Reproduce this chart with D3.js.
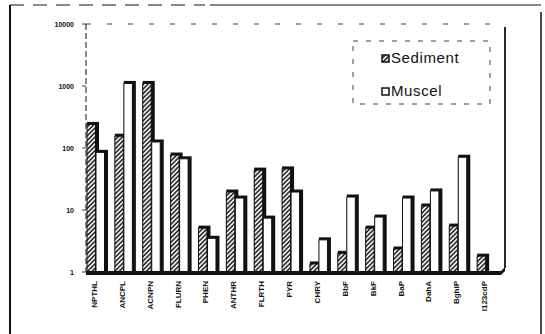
<!DOCTYPE html>
<html><head><meta charset="utf-8">
<script src="https://cdn.jsdelivr.net/npm/d3@7"></script>
<style>body{margin:0;background:#fff}svg{display:block}</style>
</head><body><svg id="c" width="545" height="334"></svg>
<script>
const categories = ["NPTHL","ANCPL","ACNPN","FLURN","PHEN","ANTHR","FLRTH","PYR","CHRY","BbF","BkF","BaP","DahA","BghiP","I123cdP"];
const sediment = [240,155,1100,77,5.1,19.5,44,46,1.35,2.0,5.1,2.35,11.6,5.5,1.8];
const muscel = [85,1100,125,67,3.5,15.6,7.4,19.5,3.3,16.2,7.7,15.6,20.3,71,null];
const yTicks = [1,10,100,1000,10000];
const yTickLabels = ["1","10","100","1000","10000"];
const seriesNames = ["Sediment","Muscel"];

const svg = d3.select("#c");
const ink = "#111";
const defs = svg.append("defs");
defs.append("pattern").attr("id","hatch").attr("patternUnits","userSpaceOnUse")
  .attr("width",3.2).attr("height",3.2).attr("patternTransform","rotate(45)")
  .call(p=>{p.append("rect").attr("width",3.2).attr("height",3.2).attr("fill","#fff");
            p.append("line").attr("x1",1).attr("y1",0).attr("x2",1).attr("y2",3.2)
             .attr("stroke",ink).attr("stroke-width",1.5);});

// outer frame
svg.append("line").attr("x1",10).attr("y1",5).attr("x2",10).attr("y2",334).attr("stroke",ink).attr("stroke-width",2);
svg.append("line").attr("x1",10).attr("y1",5).attr("x2",205).attr("y2",5).attr("stroke",ink).attr("stroke-width",1).attr("stroke-dasharray","14,9");
svg.append("line").attr("x1",210).attr("y1",5).attr("x2",541).attr("y2",5).attr("stroke",ink).attr("stroke-width",1.2);
svg.append("line").attr("x1",541).attr("y1",12).attr("x2",541).attr("y2",334).attr("stroke",ink).attr("stroke-width",1.5);

const x = d3.scaleBand().domain(categories).range([86,504]).padding(0);
const xs = d3.scaleBand().domain(seriesNames).range([1,19]).padding(0);
const y = d3.scaleLog().domain([1,10000]).range([272,24]);
const base = y(1);

// plot top (dashed) and right wall
svg.append("line").attr("x1",86).attr("y1",y(10000)).attr("x2",500).attr("y2",y(10000)).attr("stroke",ink).attr("stroke-width",0.8).attr("stroke-dasharray","5,16");
svg.append("line").attr("x1",505).attr("y1",27).attr("x2",505).attr("y2",268).attr("stroke",ink).attr("stroke-width",1.8);

// y axis
svg.append("line").attr("x1",86).attr("y1",y(10000)).attr("x2",86).attr("y2",base).attr("stroke",ink).attr("stroke-width",1).attr("stroke-dasharray","6,3");
const yt = svg.append("g");
yTicks.forEach((t,i)=>{
  yt.append("line").attr("x1",82).attr("x2",86).attr("y1",y(t)).attr("y2",y(t)).attr("stroke",ink).attr("stroke-width",0.8);
  yt.append("text").attr("x",74).attr("y",y(t)+2.5).attr("text-anchor","end")
    .attr("font-family","Liberation Sans, Arial, sans-serif").attr("font-size",7).attr("font-weight","bold")
    .attr("fill",ink).text(yTickLabels[i]);
});

// bars
const dx = 3, dy = 2.5;
const bars = svg.append("g");
categories.forEach((c,i)=>{
  const series = [[seriesNames[0], sediment[i], "url(#hatch)"],[seriesNames[1], muscel[i], "#fff"]];
  series.forEach(([s,v,fill])=>{
    if (v == null) return;
    const bx = x(c) + xs(s), w = xs.bandwidth(), ty = y(v);
    bars.append("rect").attr("x",bx).attr("y",ty-dy).attr("width",w+dx).attr("height",base-ty+dy).attr("fill",ink);
    bars.append("rect").attr("x",bx).attr("y",ty).attr("width",w-0.5).attr("height",base-ty)
      .attr("fill",fill).attr("stroke",ink).attr("stroke-width",1);
  });
});

// floor
svg.append("path").attr("d",`M86,${base-1}L501,${base-1}L505,${base-5}L505,${base-1}L501,${base+3}L86,${base+3}Z`).attr("fill",ink);

// category labels
const xl = svg.append("g");
categories.forEach(c=>{
  const cx = x(c) + 8;
  xl.append("text").attr("transform",`translate(${cx+3},${base+9}) rotate(-90)`)
    .attr("text-anchor","end").attr("font-family","Liberation Sans, Arial, sans-serif")
    .attr("font-size",8).attr("font-weight","bold").attr("fill",ink).text(c);
});

// legend
const lg = svg.append("g");
lg.append("rect").attr("x",353).attr("y",41).attr("width",137).attr("height",63)
  .attr("fill","none").attr("stroke",ink).attr("stroke-width",0.8).attr("stroke-dasharray","5,8");
const lfill = ["url(#hatch)","#fff"];
seriesNames.forEach((s,i)=>{
  const ly = 55 + i*33;
  lg.append("rect").attr("x",382).attr("y",ly).attr("width",7).attr("height",7)
    .attr("fill",lfill[i]).attr("stroke",ink).attr("stroke-width",1.5);
  lg.append("text").attr("x",391).attr("y",ly+8).attr("font-family","Liberation Sans, Arial, sans-serif")
    .attr("font-size",15).attr("letter-spacing",0.6).attr("fill",ink).text(s);
});
</script></body></html>
